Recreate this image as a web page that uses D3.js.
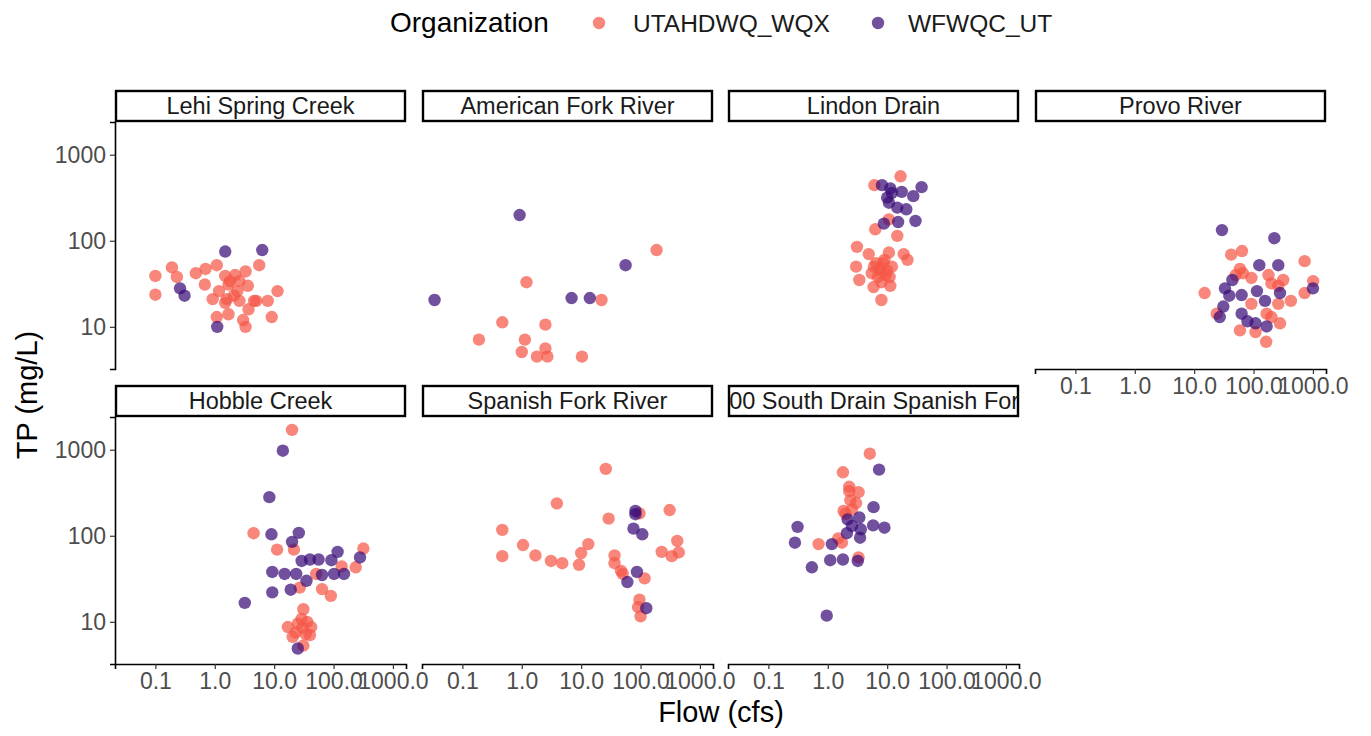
<!DOCTYPE html>
<html><head><meta charset="utf-8">
<script src="https://cdn.jsdelivr.net/npm/d3@7"></script>
<style>
html,body{margin:0;padding:0;background:#fff;}
svg{display:block;font-family:"Liberation Sans",Arial,sans-serif;}
</style></head>
<body>
<svg id="chart" width="1371" height="736"></svg>
<script>
// ---- data ----
const sites = ["Lehi Spring Creek","American Fork River","Lindon Drain","Provo River","Hobble Creek","Spanish Fork River","900 South Drain Spanish Fork"];
const organizations = ["UTAHDWQ_WQX","WFWQC_UT"];
const xTicks = [0.1,1,10,100,1000];
const xTickLabels = ["0.1","1.0","10.0","100.0","1000.0"];
const yTicks = [10,100,1000];
const yTickLabels = ["10","100","1000"];

// [Flow (cfs), TP (mg/L)]
const lehi_UTAHDWQ = [[0.1,39],[0.1,23.6],[0.19,49],[0.23,38],[0.48,42],[0.7,47],[0.68,31],[1.08,52],[1.5,39],[2.2,40],[3.3,44],[5.6,52],[1.7,31],[3.6,30],[1.18,26],[0.92,21],[1.6,21],[2.6,20],[4.6,20],[7.8,20],[11.4,26],[3.7,16],[1.08,13],[1.7,14],[3.0,12],[3.3,10],[9.1,13],[2.1,23],[1.5,19],[2.4,26],[5,20],[1.8,34],[2.6,34]];
const lehi_WFWQC = [[1.5,75],[6.3,78],[0.26,28],[0.31,23],[1.1,10]];
const amfork_UTAHDWQ = [[186,78],[1.2,33],[22,20.5],[0.47,11.3],[2.5,10.6],[0.19,7.1],[1.13,7.1],[1.0,5.1],[2.5,5.6],[1.8,4.5],[2.7,4.5],[10.3,4.5]];
const amfork_WFWQC = [[0.92,199],[0.034,20.5],[6.9,21.6],[14,21.6],[56,52]];
const lindon_UTAHDWQ = [[16.8,561],[6.1,443],[6.3,136],[14.8,114],[10.7,177],[3.1,85],[4.9,70],[10.7,73],[19,70],[22,60],[3.0,50],[3.4,35],[5.9,29],[11.3,30],[8.0,20.5],[7.7,45],[6,50],[8.5,55],[9.5,40],[7,38],[8,33],[10,45],[5.5,42],[9,60],[12,50],[6.5,55],[7.5,48],[11,38]];
const lindon_WFWQC = [[8.2,443],[11.3,406],[17.6,370],[38,420],[27.5,330],[10,317],[14.8,243],[21,232],[8.8,158],[15.3,165],[30,170],[12,360],[10.7,277]];
const provo_UTAHDWQ = [[42,69],[64,76],[725,58],[15,24.7],[1010,34],[725,24.7],[425,20],[316,35],[200,32],[92,37],[59,47],[66,42],[50,40],[178,40],[261,18.5],[279,11],[59,9.1],[108,8.7],[163,6.7],[24,14.2],[92,18.5],[166,14.2],[200,13],[261,30]];
const provo_WFWQC = [[29.4,133],[224,107],[125,52],[261,52],[44,35],[33,28],[39,23],[63,23.4],[114,26],[156,20],[279,24.7],[1000,28],[31,17.2],[27,13],[63,14.2],[79,11.6],[108,11],[166,10.1]];
const hobble_UTAHDWQ = [[20,1700],[4.5,107],[11.2,69],[21.5,69],[318,71],[236,43],[137,44],[51,36],[64,24],[90,20],[27,25],[31,14],[29,10.8],[17,8.7],[20.5,6.7],[42,8.7],[31,5.3],[25,9.5],[36,10],[23,7.5],[34,7.2],[30,8.5],[40,7]];
const hobble_WFWQC = [[14,973],[8.3,281],[9,104],[26,108],[20,85],[29,51],[40,53],[56,53],[92,52],[117,65],[279,56],[9.3,38],[15,36],[23.5,36],[64,35],[102,36],[150,36],[35,30],[19,23.6],[9.3,22],[3.2,16.6],[25,4.9]];
const spfork_UTAHDWQ = [[26,598],[3.9,238],[309,199],[29,158],[0.47,117],[0.47,58],[1.05,78],[1.7,59],[3.1,51],[4.8,48],[9.2,46],[10,63],[13.2,80],[36.5,59],[36.5,48],[47,39],[117,32],[227,65],[335,58],[415,87],[440,64],[96,18.1],[91,14.8],[100,11.6],[96,182],[50,36]];
const spfork_WFWQC = [[82,194],[82,178],[76,121],[107,104],[87,38],[60,29],[125,14.4]];
const south900_UTAHDWQ = [[5.1,899],[1.8,546],[2.3,371],[3.3,321],[2.4,259],[2.55,202],[1.85,194],[1.5,93],[0.70,80],[1.73,83],[3.3,56],[2.3,330],[2.0,180],[3,240]];
const south900_WFWQC = [[7.3,587],[5.9,215],[0.31,127],[0.28,83],[5.8,132],[9.0,124],[3.4,163],[2.16,155],[2.55,130],[3.6,119],[2.1,107],[3.5,95],[1.17,80],[1.1,52],[1.8,53],[3.2,51],[0.54,43],[0.96,11.8]];

const siteData = [
  [lehi_UTAHDWQ, lehi_WFWQC],
  [amfork_UTAHDWQ, amfork_WFWQC],
  [lindon_UTAHDWQ, lindon_WFWQC],
  [provo_UTAHDWQ, provo_WFWQC],
  [hobble_UTAHDWQ, hobble_WFWQC],
  [spfork_UTAHDWQ, spfork_WFWQC],
  [south900_UTAHDWQ, south900_WFWQC]
];

// ---- layout ----
const colX = [115, 422, 728, 1035];
const panelW = 291, panelH = 247;
const rowStripTop = [90, 385];
const stripH = 32;
const colors = d3.scaleOrdinal().domain(organizations).range(["#F55846","#3A0C78"]);
const ptOpacity = 0.72;
const textCol = "#4d4d4d";
const tickFont = 23;

const x = d3.scaleLog().domain([Math.pow(10,-1.68), Math.pow(10,3.22)]).range([0, panelW]);
const y = d3.scaleLog().domain([Math.pow(10,0.51), Math.pow(10,3.38)]).range([panelH, 0]);

const svg = d3.select("#chart");
const defs = svg.append("defs");

sites.forEach((site, i) => {
  const row = Math.floor(i / 4), col = i % 4;
  const px = colX[col], sTop = rowStripTop[row], pTop = sTop + stripH;
  const g = svg.append("g").attr("transform", `translate(${px},${pTop})`);

  // points
  const clipId = "clip" + i;
  defs.append("clipPath").attr("id", clipId).append("rect")
    .attr("x", 0).attr("y", 0).attr("width", panelW).attr("height", panelH);
  const pg = g.append("g").attr("clip-path", `url(#${clipId})`);
  organizations.forEach((org, k) => {
    pg.selectAll(null).data(siteData[i][k]).enter().append("circle")
      .attr("cx", d => x(d[0])).attr("cy", d => y(d[1])).attr("r", 6.2)
      .attr("fill", colors(org)).attr("fill-opacity", ptOpacity);
  });

  // y axis on first column
  if (col === 0) {
    const ya = g.append("g").call(d3.axisLeft(y).tickValues(yTicks).tickFormat((d, j) => yTickLabels[j]).tickSizeOuter(0).tickSize(5).tickPadding(4));
    ya.select(".domain").attr("stroke", "#000").attr("stroke-width", 1.6);
    ya.selectAll(".tick line").attr("stroke", "#333").attr("stroke-width", 1.2);
    ya.selectAll(".tick text").attr("fill", textCol).attr("font-size", tickFont).attr("font-family", "Liberation Sans, Arial, sans-serif");
  }
  // x axis on bottom-most panel of each column
  const hasBelow = (i + 4) < sites.length;
  if (!hasBelow) {
    const xa = g.append("g").attr("transform", `translate(0,${panelH})`)
      .call(d3.axisBottom(x).tickValues(xTicks).tickFormat((d, j) => xTickLabels[j]).tickSizeOuter(0).tickSize(5).tickPadding(4));
    xa.select(".domain").attr("stroke", "#000").attr("stroke-width", 1.6);
    xa.selectAll(".tick line").attr("stroke", "#333").attr("stroke-width", 1.2);
    xa.selectAll(".tick text").attr("fill", textCol).attr("font-size", tickFont).attr("font-family", "Liberation Sans, Arial, sans-serif");
  }

  // strip
  const sclip = "sclip" + i;
  defs.append("clipPath").attr("id", sclip).append("rect")
    .attr("x", px).attr("y", sTop).attr("width", panelW).attr("height", stripH);
  svg.append("rect").attr("x", px + 1).attr("y", sTop + 1).attr("width", panelW - 2).attr("height", stripH - 2)
    .attr("fill", "#fff").attr("stroke", "#000").attr("stroke-width", 2.4);
  svg.append("text").attr("clip-path", `url(#${sclip})`)
    .attr("x", px + panelW / 2).attr("y", sTop + stripH / 2 + 8)
    .attr("text-anchor", "middle").attr("font-size", 23.5).attr("fill", "#1a1a1a")
    .text(site);
});

// axis titles
svg.append("text").attr("x", 721).attr("y", 722).attr("text-anchor", "middle")
  .attr("font-size", 29).attr("fill", "#000").text("Flow (cfs)");
svg.append("text").attr("transform", "translate(37,395) rotate(-90)").attr("text-anchor", "middle")
  .attr("font-size", 29).attr("fill", "#000").text("TP (mg/L)");

// legend
const lg = svg.append("g");
lg.append("text").attr("x", 390).attr("y", 32).attr("font-size", 28).attr("fill", "#000").text("Organization");
const legendItems = [{org: organizations[0], cx: 599, tx: 633}, {org: organizations[1], cx: 878, tx: 908}];
legendItems.forEach(it => {
  lg.append("circle").attr("cx", it.cx).attr("cy", 23).attr("r", 6.2).attr("fill", colors(it.org)).attr("fill-opacity", ptOpacity);
  lg.append("text").attr("x", it.tx).attr("y", 32).attr("font-size", 24.5).attr("fill", "#1a1a1a").text(it.org);
});
</script>
</body></html>
